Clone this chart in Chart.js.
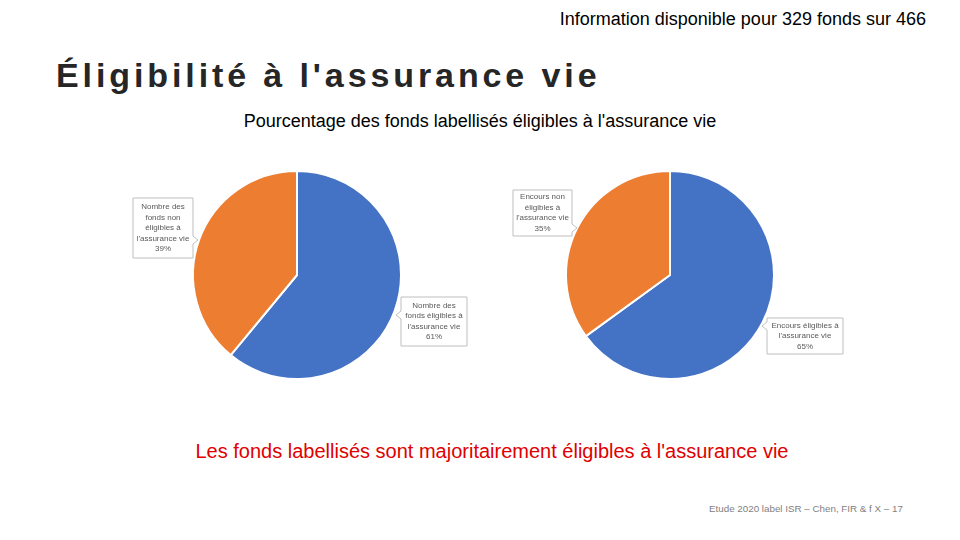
<!DOCTYPE html>
<html>
<head>
<meta charset="utf-8">
<script src="https://cdn.jsdelivr.net/npm/chart.js@4"></script>
<style>
  body { margin: 0; width: 960px; height: 540px; background: #fff; position: relative; overflow: hidden; font-family: "Liberation Sans", Arial, sans-serif; }
  .txt { position: absolute; white-space: nowrap; }
  #info { right: 34px; top: 9px; font-size: 18px; color: #000; }
  #titre { left: 56px; top: 56px; font-size: 34px; font-weight: bold; letter-spacing: 3.9px; color: #262626; }
  #sous { left: 0; width: 960px; text-align: center; top: 111px; font-size: 18px; color: #000; }
  #concl { left: 0; width: 984px; text-align: center; top: 440px; font-size: 20px; color: #e00000; }
  #pied { left: 709px; top: 503px; font-size: 9.8px; color: #7f7f7f; }
  canvas { position: absolute; }
</style>
</head>
<body>
<div class="txt" id="info">Information disponible pour 329 fonds sur 466</div>
<div class="txt" id="titre">Éligibilité à l'assurance vie</div>
<div class="txt" id="sous">Pourcentage des fonds labellisés éligibles à l'assurance vie</div>
<canvas id="graficoNombre" width="360" height="230" style="left:120px; top:160px;"></canvas>
<canvas id="graficoEncours" width="360" height="230" style="left:490px; top:160px;"></canvas>
<div class="txt" id="concl">Les fonds labellisés sont majoritairement éligibles à l'assurance vie</div>
<div class="txt" id="pied">Etude 2020 label ISR – Chen, FIR &amp; f X – 17</div>

<script>
// donnees
const labelsNombre = [
    ['Nombre des', 'fonds éligibles à', "l'assurance vie"],
    ['Nombre des', 'fonds non', 'éligibles à', "l'assurance vie"]
];
const valoresNombre = [61, 39];

const labelsEncours = [
    ['Encours éligibles à', "l'assurance vie"],
    ['Encours non', 'éligibles à', "l'assurance vie"]
];
const valoresEncours = [65, 35];

const pieColors = ['#4472C4', '#ED7D31'];

// callouts: caixa relativa ao centro da pizza + lado da seta
const calloutPlugin = {
    id: 'callouts',
    afterDatasetsDraw(chart, args, opts) {
        const ctx = chart.ctx;
        const meta = chart.getDatasetMeta(0);
        const arc = meta.data[0];
        const cx = arc.x, cy = arc.y;
        const dados = chart.data.datasets[0].data;
        const total = dados.reduce((a, b) => a + b, 0);
        ctx.save();
        ctx.font = '8px "Liberation Sans", Arial, sans-serif';
        ctx.textAlign = 'center';
        ctx.textBaseline = 'middle';
        opts.boxes.forEach((b, i) => {
            const linhas = chart.data.labels[i].concat([Math.round(dados[i] / total * 100) + '%']);
            const x0 = cx + b.x, y0 = cy + b.y;
            ctx.fillStyle = '#fff';
            ctx.strokeStyle = '#bfbfbf';
            ctx.lineWidth = 1;
            ctx.beginPath();
            ctx.moveTo(x0, y0);
            ctx.lineTo(x0 + b.w, y0);
            if (b.lado === 'right') {
                ctx.lineTo(x0 + b.w, y0 + b.py - 4);
                ctx.lineTo(x0 + b.w + 5, y0 + b.py);
                ctx.lineTo(x0 + b.w, y0 + b.py + 4);
            }
            ctx.lineTo(x0 + b.w, y0 + b.h);
            ctx.lineTo(x0, y0 + b.h);
            if (b.lado === 'left') {
                ctx.lineTo(x0, y0 + b.py + 4);
                ctx.lineTo(x0 - 5, y0 + b.py);
                ctx.lineTo(x0, y0 + b.py - 4);
            }
            ctx.closePath();
            ctx.fill();
            ctx.stroke();
            ctx.fillStyle = '#595959';
            const lh = 10.5;
            const yIni = y0 + b.h / 2 - (linhas.length - 1) * lh / 2;
            linhas.forEach((l, k) => ctx.fillText(l, x0 + b.w / 2, yIni + k * lh));
        });
        ctx.restore();
    }
};

function createPie(id, labels, valores, boxes, padding) {
    const ctx = document.getElementById(id).getContext('2d');
    return new Chart(ctx, {
        type: 'pie',
        data: {
            labels: labels,
            datasets: [{
                data: valores,
                backgroundColor: pieColors,
                borderColor: '#ffffff',
                borderWidth: 2
            }]
        },
        options: {
            responsive: false,
            animation: false,
            layout: { padding: padding },
            plugins: {
                legend: { display: false },
                tooltip: { enabled: false },
                callouts: { boxes: boxes }
            }
        },
        plugins: [calloutPlugin]
    });
}

createPie('graficoNombre', labelsNombre, valoresNombre, [
    { x: 104, y: 22, w: 66, h: 49, lado: 'left', py: 18 },
    { x: -164, y: -77, w: 60, h: 60, lado: 'right', py: 42 }
], { top: 10, bottom: 10, left: 0, right: 6 });

createPie('graficoEncours', labelsEncours, valoresEncours, [
    { x: 97, y: 43, w: 76, h: 36, lado: 'left', py: 8 },
    { x: -157, y: -85, w: 59, h: 46, lado: 'right', py: 38 }
], { top: 10, bottom: 10, left: 0, right: 0 });
</script>
</body>
</html>
